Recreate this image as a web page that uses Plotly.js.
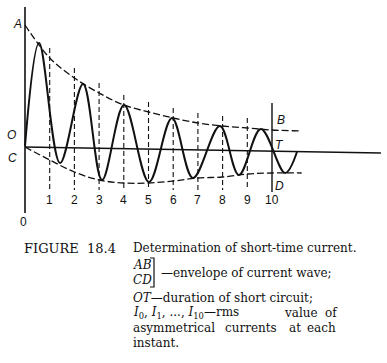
<!DOCTYPE html>
<html><head><meta charset="utf-8">
<script src="https://cdn.plot.ly/plotly-3.0.1.min.js"></script>
<style>html,body{margin:0;padding:0;background:#fff;}#chart{width:387px;height:363px;}</style>
</head><body><div id="chart"></div>
<script>
// ---- data (time in "instants", current in arbitrary units) ----
const instants = [1,2,3,4,5,6,7,8,9];
const instantLabels = ['1','2','3','4','5','6','7','8','9','10'];
const labelInstants = [1,2,3,4,5,6,7,8,9,10];
const envT = [0,1,2,3,4,5,6,7,8,9,10,11.2];
const upperEnv = [12.3,9.0,7.0,5.5,4.3,3.6,3.0,2.5,2.2,2.0,1.8,1.7];
const lowerEnv = [0.1,-1.2,-2.4,-3.2,-3.5,-3.5,-3.3,-3.0,-2.9,-2.6,-2.5,-2.5];
// wave: start, successive peaks and troughs, end
const waveT = [0,0.57,1.42,2.35,3.12,4.01,5.02,5.95,6.80,7.89,8.66,9.55,10.53,11.01];
const waveI = [0.2,10.5,-1.5,6.4,-3.2,4.3,-3.4,3.0,-3.0,2.2,-2.7,1.9,-2.5,-0.4];
const zeroT = [0, 14.41];
const zeroI = [0.1, -0.5];
const shortCircuitEnd = 10;   // instant T
const axisI = [14.1, -6.5];

// ---- geometry helpers ----
const W = 387, H = 363;
const X0 = 25, XS = 24.7, Y0 = 148, YS = 10;
const xr = [(0 - X0) / XS, (W - X0) / XS];
const yr = [(Y0 - H) / YS, (Y0 - 0) / YS];
const px = v => v / W;
const py = v => 1 - v / H;

const black = '#111';
function envAt(t) { const i = envT.indexOf(t); return upperEnv[i]; }

const vx = [], vy = [];
instants.forEach(k => { vx.push(k, k, null); vy.push(envAt(k) + 1.0, -4.2, null); });

const traces = [
  {x: zeroT, y: zeroI, mode: 'lines', line: {color: black, width: 1.3}},
  {x: [0, 0], y: axisI, mode: 'lines', line: {color: black, width: 1.6}},
  {x: envT, y: upperEnv, mode: 'lines', line: {color: black, width: 1.3, dash: '7px,3px', shape: 'spline'}},
  {x: envT, y: lowerEnv, mode: 'lines', line: {color: black, width: 1.3, dash: '7px,3px', shape: 'spline'}},
  {x: vx, y: vy, mode: 'lines', line: {color: black, width: 1.1, dash: '5px,3px'}},
  {x: [shortCircuitEnd, shortCircuitEnd], y: [envAt(shortCircuitEnd) + 2.7, -4.4], mode: 'lines', line: {color: black, width: 1.4}},
  {x: waveT, y: waveI, mode: 'lines', line: {color: black, width: 2, shape: 'spline', smoothing: 1.0}}
];

const ann = [];
const sans = 'Liberation Sans, Arial, sans-serif';
const serif = 'DejaVu Serif, serif';
labelInstants.forEach((k, i) => ann.push({x: k, y: -5.15, xref: 'x', yref: 'y', text: instantLabels[i], showarrow: false, font: {family: sans, size: 12, color: black}}));
ann.push({x: -0.08, y: -7.4, xref: 'x', yref: 'y', text: '0', showarrow: false, font: {family: sans, size: 12, color: black}});
const lab = (t, i, s) => ann.push({x: t, y: i, xref: 'x', yref: 'y', text: '<i>' + s + '</i>', showarrow: false, font: {family: sans, size: 12, color: black}});
lab(-0.32, 12.4, 'A'); lab(-0.53, 1.3, 'O'); lab(-0.49, -1.0, 'C');
lab(10.36, 2.8, 'B'); lab(10.32, 0.3, 'T'); lab(10.32, -3.8, 'D');

const cap = (x, y, s, opt) => ann.push(Object.assign({x: px(x), y: py(y), xref: 'paper', yref: 'paper', xanchor: 'left', yanchor: 'middle', text: s, showarrow: false, font: {family: serif, size: 12, color: black}}, opt || {}));
cap(22, 248, 'FIGURE&nbsp; 18.4', {font: {family: serif, size: 13, color: black}});
cap(131, 248, 'Determination of short-time current.');
cap(131, 265, '<i>AB</i>');
cap(131, 280, '<i>CD</i>');
cap(159, 273, '—envelope of current wave;');
cap(131, 298, '<i>OT</i>—duration of short circuit;');
cap(131, 313, '<i>I</i><sub>0</sub>, <i>I</i><sub>1</sub>, ..., <i>I</i><sub>10</sub>—rms');
cap(282, 313, 'value');
cap(323, 313, 'of');
cap(131, 328, 'asymmetrical');
cap(223, 328, 'currents');
cap(287, 328, 'at');
cap(305, 328, 'each');
cap(131, 343, 'instant.');

const shapes = [{type: 'path', xref: 'paper', yref: 'paper',
  path: `M ${px(150)} ${py(258)} L ${px(154)} ${py(258)} L ${px(154)} ${py(287)} L ${px(150)} ${py(287)}`,
  line: {color: black, width: 1.2}}];

const layout = {
  width: W, height: H,
  margin: {l: 0, r: 0, t: 0, b: 0, pad: 0},
  paper_bgcolor: '#fff', plot_bgcolor: '#fff',
  showlegend: false,
  xaxis: {range: xr, visible: false, fixedrange: true},
  yaxis: {range: yr, visible: false, fixedrange: true},
  annotations: ann,
  shapes: shapes
};
Plotly.newPlot('chart', traces, layout, {staticPlot: true, displayModeBar: false});
</script>
</body></html>
